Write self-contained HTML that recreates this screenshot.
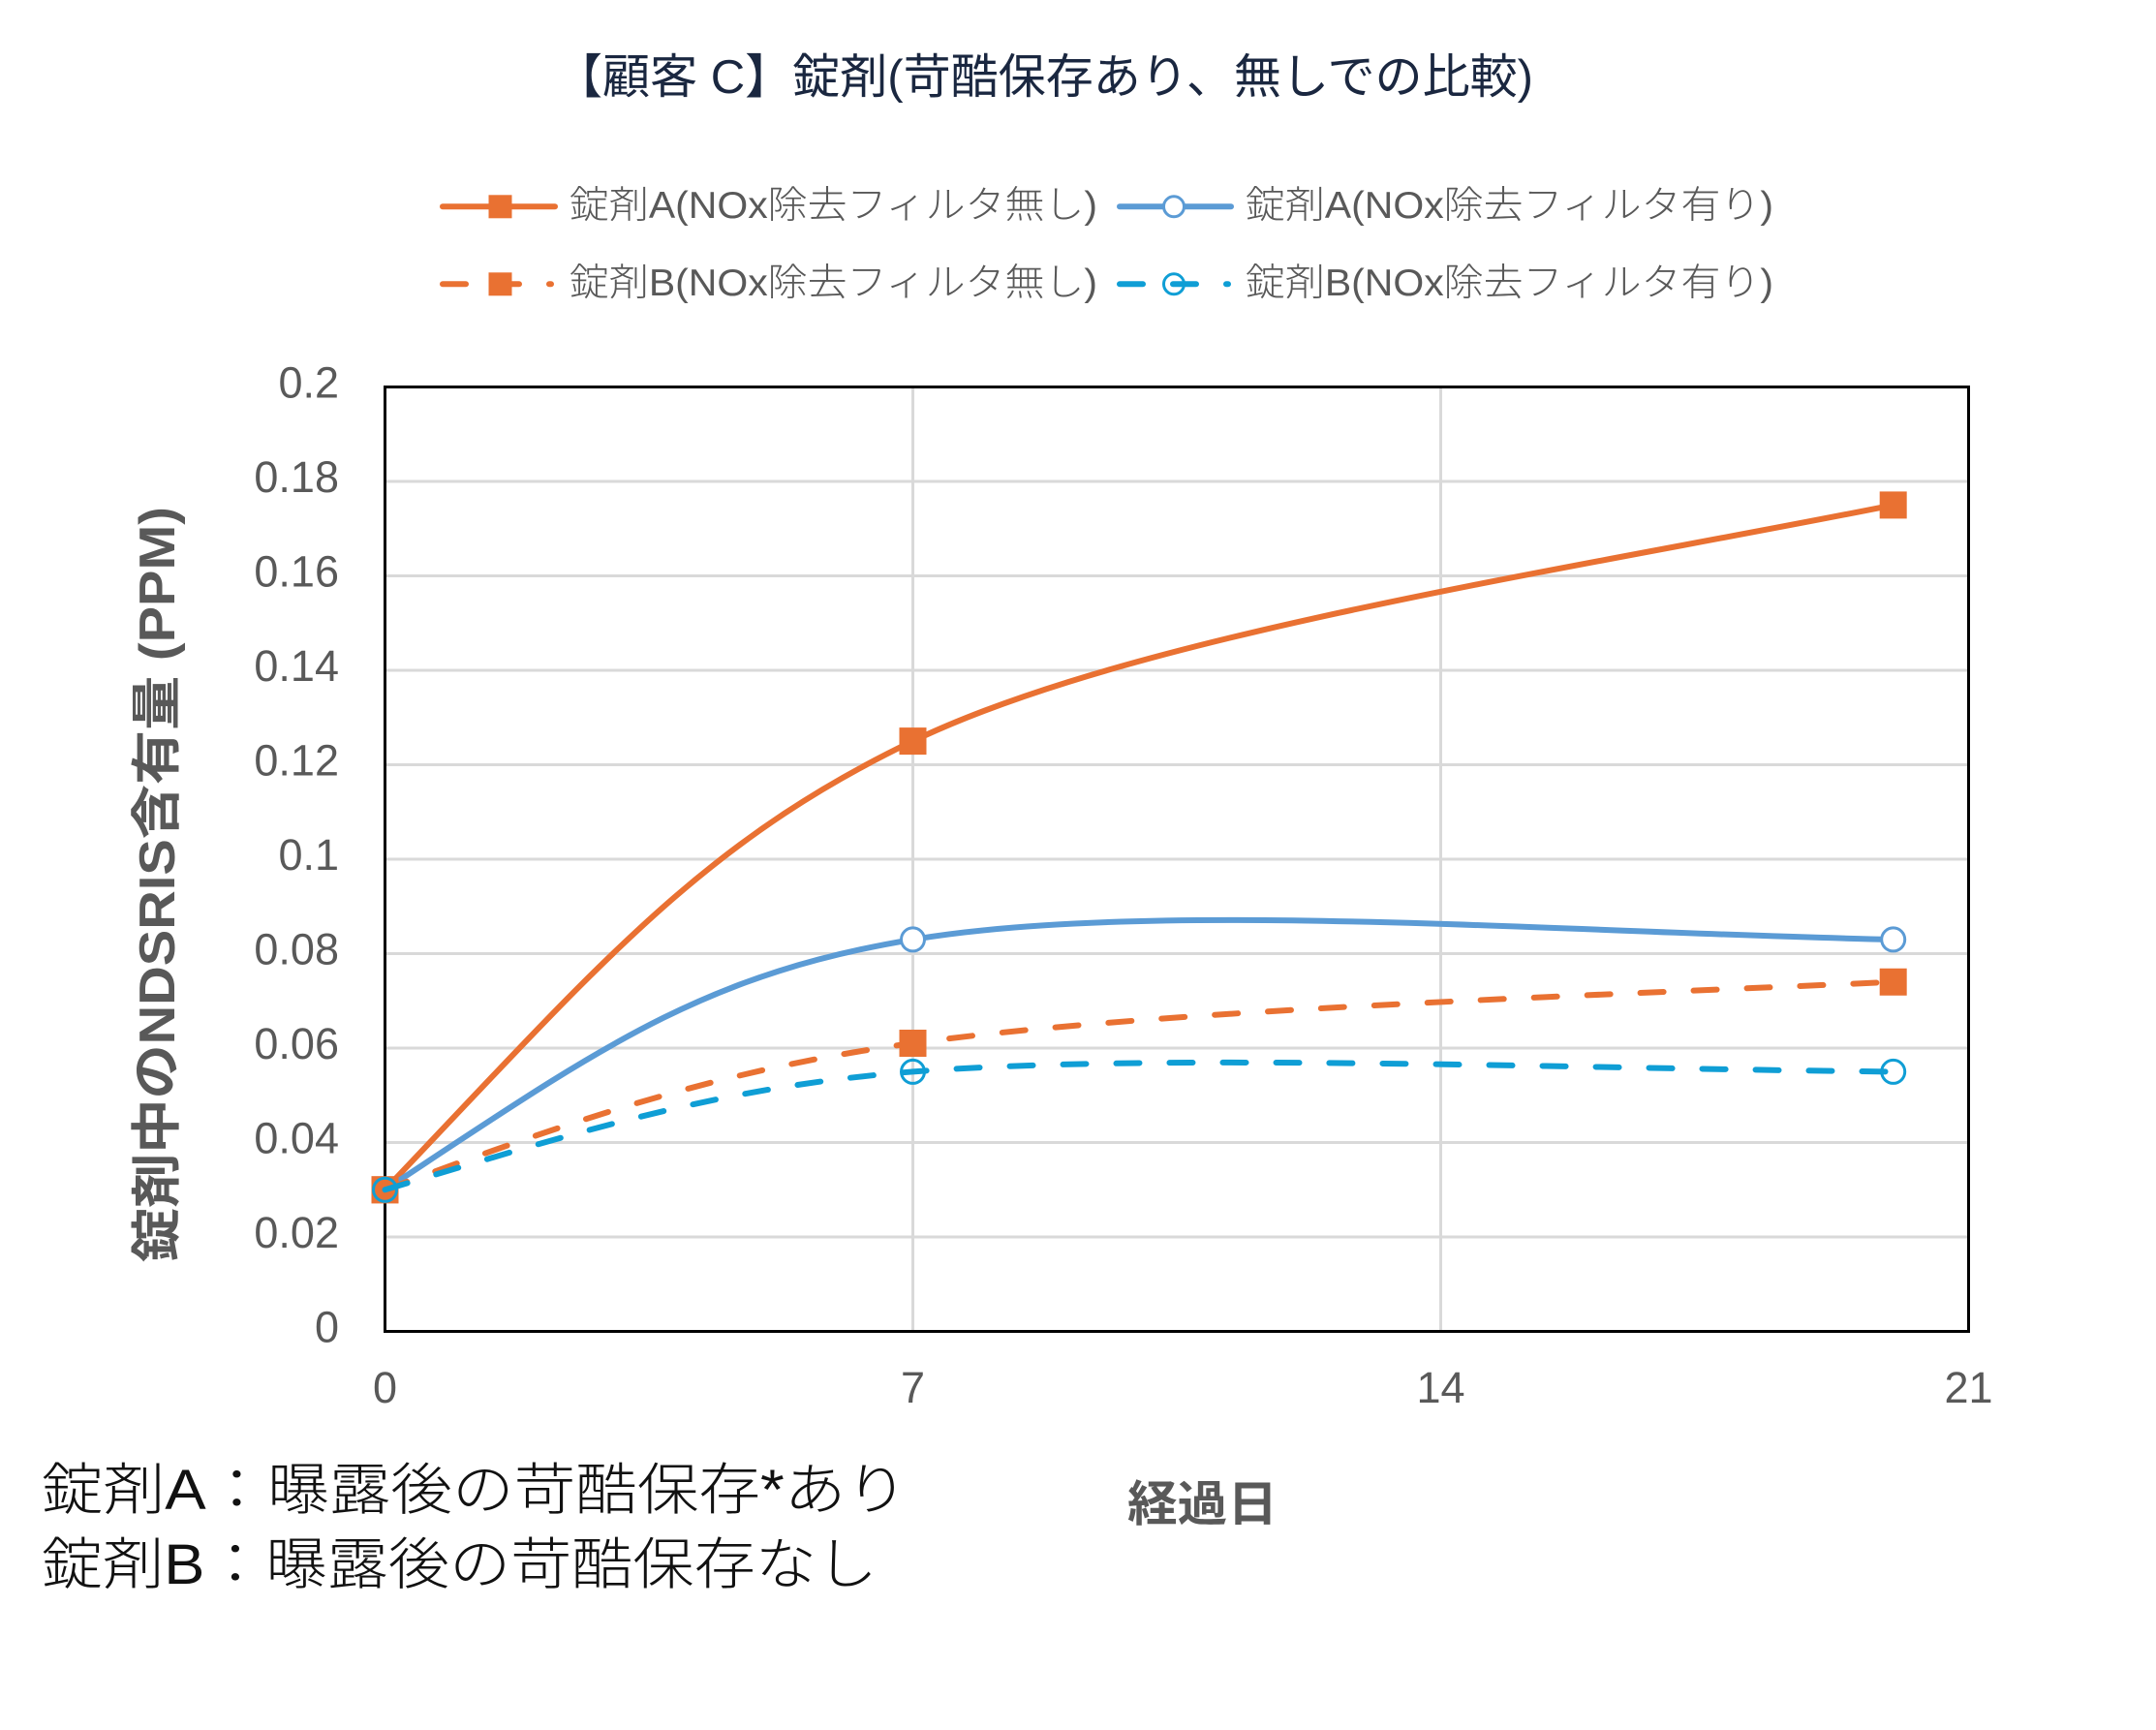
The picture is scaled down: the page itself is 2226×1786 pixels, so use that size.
<!DOCTYPE html>
<html>
<head>
<meta charset="utf-8">
<style>
  html, body { margin:0; padding:0; background:#ffffff; }
  body { width:2226px; height:1786px; overflow:hidden; }
  svg { display:block; }
  .tick { font-family:"Liberation Sans","Noto Sans CJK JP",sans-serif; font-size:45px; fill:#595959; }
  .leg { font-family:"Liberation Sans","Noto Sans CJK JP",sans-serif; font-size:39px; fill:#595959; font-weight:300; }
</style>
</head>
<body>
<svg width="2226" height="1786" viewBox="0 0 2226 1786" xmlns="http://www.w3.org/2000/svg">
  <rect x="0" y="0" width="2226" height="1786" fill="#ffffff"/>

  <!-- Title -->
  <text x="573" y="96" textLength="1010" lengthAdjust="spacingAndGlyphs"
        font-family="'Liberation Sans','Noto Sans CJK JP',sans-serif" font-size="49" font-weight="normal" fill="#1a2740">【顧客 C】錠剤(苛酷保存あり、無しでの比較)</text>

  <!-- Legend row 1 -->
  <line x1="457" y1="213.3" x2="573" y2="213.3" stroke="#E97132" stroke-width="6" stroke-linecap="round"/>
  <rect x="504.5" y="201.3" width="24" height="24" fill="#E97132"/>
  <text class="leg" x="588" y="225" textLength="545" lengthAdjust="spacingAndGlyphs">錠剤A(NOx除去フィルタ無し)</text>

  <line x1="1156" y1="213.3" x2="1271" y2="213.3" stroke="#5B9BD5" stroke-width="6" stroke-linecap="round"/>
  <circle cx="1212" cy="213.3" r="10.5" fill="#ffffff" stroke="#5B9BD5" stroke-width="3"/>
  <text class="leg" x="1286" y="225" textLength="545" lengthAdjust="spacingAndGlyphs">錠剤A(NOx除去フィルタ有り)</text>

  <!-- Legend row 2 -->
  <line x1="457" y1="293.3" x2="569" y2="293.3" stroke="#E97132" stroke-width="6" stroke-linecap="round" stroke-dasharray="24 31"/>
  <rect x="504.5" y="281.3" width="24" height="24" fill="#E97132"/>
  <text class="leg" x="588" y="305" textLength="545" lengthAdjust="spacingAndGlyphs">錠剤B(NOx除去フィルタ無し)</text>

  <line x1="1156" y1="293.3" x2="1268" y2="293.3" stroke="#0F9ED5" stroke-width="6" stroke-linecap="round" stroke-dasharray="24 31"/>
  <circle cx="1212" cy="293.3" r="10.5" fill="none" stroke="#0F9ED5" stroke-width="3"/>
  <text class="leg" x="1286" y="305" textLength="545" lengthAdjust="spacingAndGlyphs">錠剤B(NOx除去フィルタ有り)</text>

  <!-- Gridlines -->
  <g stroke="#d9d9d9" stroke-width="3">
    <line x1="397.5" y1="1277" x2="2032.5" y2="1277"/>
    <line x1="397.5" y1="1179.5" x2="2032.5" y2="1179.5"/>
    <line x1="397.5" y1="1082" x2="2032.5" y2="1082"/>
    <line x1="397.5" y1="984.5" x2="2032.5" y2="984.5"/>
    <line x1="397.5" y1="887" x2="2032.5" y2="887"/>
    <line x1="397.5" y1="789.5" x2="2032.5" y2="789.5"/>
    <line x1="397.5" y1="692" x2="2032.5" y2="692"/>
    <line x1="397.5" y1="594.5" x2="2032.5" y2="594.5"/>
    <line x1="397.5" y1="497" x2="2032.5" y2="497"/>
    <line x1="942.5" y1="399.5" x2="942.5" y2="1374.5"/>
    <line x1="1487.5" y1="399.5" x2="1487.5" y2="1374.5"/>
  </g>

  <!-- Plot border -->
  <rect x="397.5" y="399.5" width="1635" height="975" fill="none" stroke="#000000" stroke-width="3"/>

  <!-- Y tick labels -->
  <g class="tick" text-anchor="end">
    <text x="350" y="410.5">0.2</text>
    <text x="350" y="508">0.18</text>
    <text x="350" y="605.5">0.16</text>
    <text x="350" y="703">0.14</text>
    <text x="350" y="800.5">0.12</text>
    <text x="350" y="898">0.1</text>
    <text x="350" y="995.5">0.08</text>
    <text x="350" y="1093">0.06</text>
    <text x="350" y="1190.5">0.04</text>
    <text x="350" y="1288">0.02</text>
    <text x="350" y="1385.5">0</text>
  </g>

  <!-- X tick labels -->
  <g class="tick" text-anchor="middle">
    <text x="397.5" y="1448">0</text>
    <text x="942.5" y="1448">7</text>
    <text x="1487.5" y="1448">14</text>
    <text x="2032.5" y="1448">21</text>
  </g>

  <!-- Axis titles -->
  <text transform="translate(180,1303) rotate(-90)" x="0" y="0" textLength="780" lengthAdjust="spacingAndGlyphs"
        font-family="'Liberation Sans','Noto Sans CJK JP',sans-serif" font-size="52" font-weight="bold" fill="#595959">錠剤中のNDSRIS含有量 (PPM)</text>
  <text x="1164" y="1570" textLength="155" lengthAdjust="spacingAndGlyphs"
        font-family="'Liberation Sans','Noto Sans CJK JP',sans-serif" font-size="50" font-weight="bold" fill="#595959">経過日</text>

  <!-- Series 1: 錠剤A 無し (orange solid, squares) -->
  <path d="M397.5,1228.3 C617.5,997.3 722.5,870.7 942.5,765.1 C1172.5,654.7 1617.7,588.8 1954.7,521.4"
        fill="none" stroke="#E97132" stroke-width="6" stroke-linecap="round"/>
  <g fill="#E97132">
    <rect x="383.5" y="1214.3" width="28" height="28"/>
    <rect x="928.5" y="751.1" width="28" height="28"/>
    <rect x="1940.7" y="507.4" width="28" height="28"/>
  </g>

  <!-- Series 2: 錠剤A 有り (blue solid, white circles) -->
  <path d="M397.5,1228.3 C617.5,1083.1 722.5,1006.4 942.5,969.9 C1192.5,928.4 1617.7,963.2 1954.7,969.9"
        fill="none" stroke="#5B9BD5" stroke-width="6" stroke-linecap="round"/>
  <g fill="#ffffff" stroke="#5B9BD5" stroke-width="3">
    <circle cx="397.5" cy="1228.3" r="12"/>
    <circle cx="942.5" cy="969.9" r="12"/>
    <circle cx="1954.7" cy="969.9" r="12"/>
  </g>

  <!-- Series 3: 錠剤B 無し (orange dashed, squares) -->
  <path d="M397.5,1228.3 C597.5,1154.3 742.5,1104.6 942.5,1077 C1192.5,1042.5 1617.7,1028.9 1954.7,1013.75"
        fill="none" stroke="#E97132" stroke-width="6" stroke-linecap="round" stroke-dasharray="24 31"/>
  <g fill="#E97132">
    <rect x="383.5" y="1214.3" width="28" height="28"/>
    <rect x="928.5" y="1063" width="28" height="28"/>
    <rect x="1940.7" y="999.75" width="28" height="28"/>
  </g>

  <!-- Series 4: 錠剤B 有り (blue dashed, hollow circles) -->
  <path d="M397.5,1228.3 C597.5,1168.3 742.5,1122 942.5,1106.4 C1192.5,1086.9 1617.7,1103 1954.7,1106.4"
        fill="none" stroke="#0F9ED5" stroke-width="6" stroke-linecap="round" stroke-dasharray="24 31"/>
  <g fill="none" stroke="#0F9ED5" stroke-width="3">
    <circle cx="397.5" cy="1228.3" r="12"/>
    <circle cx="942.5" cy="1106.4" r="12"/>
    <circle cx="1954.7" cy="1106.4" r="12"/>
  </g>

  <!-- Annotation -->
  <text x="43" y="1558" textLength="894" lengthAdjust="spacingAndGlyphs"
        font-family="'Liberation Sans','Noto Sans CJK JP',sans-serif" font-size="58" font-weight="300" fill="#111111">錠剤A：曝露後の苛酷保存*あり</text>
  <text x="43" y="1635" textLength="863" lengthAdjust="spacingAndGlyphs"
        font-family="'Liberation Sans','Noto Sans CJK JP',sans-serif" font-size="58" font-weight="300" fill="#111111">錠剤B：曝露後の苛酷保存なし</text>
</svg>
</body>
</html>
